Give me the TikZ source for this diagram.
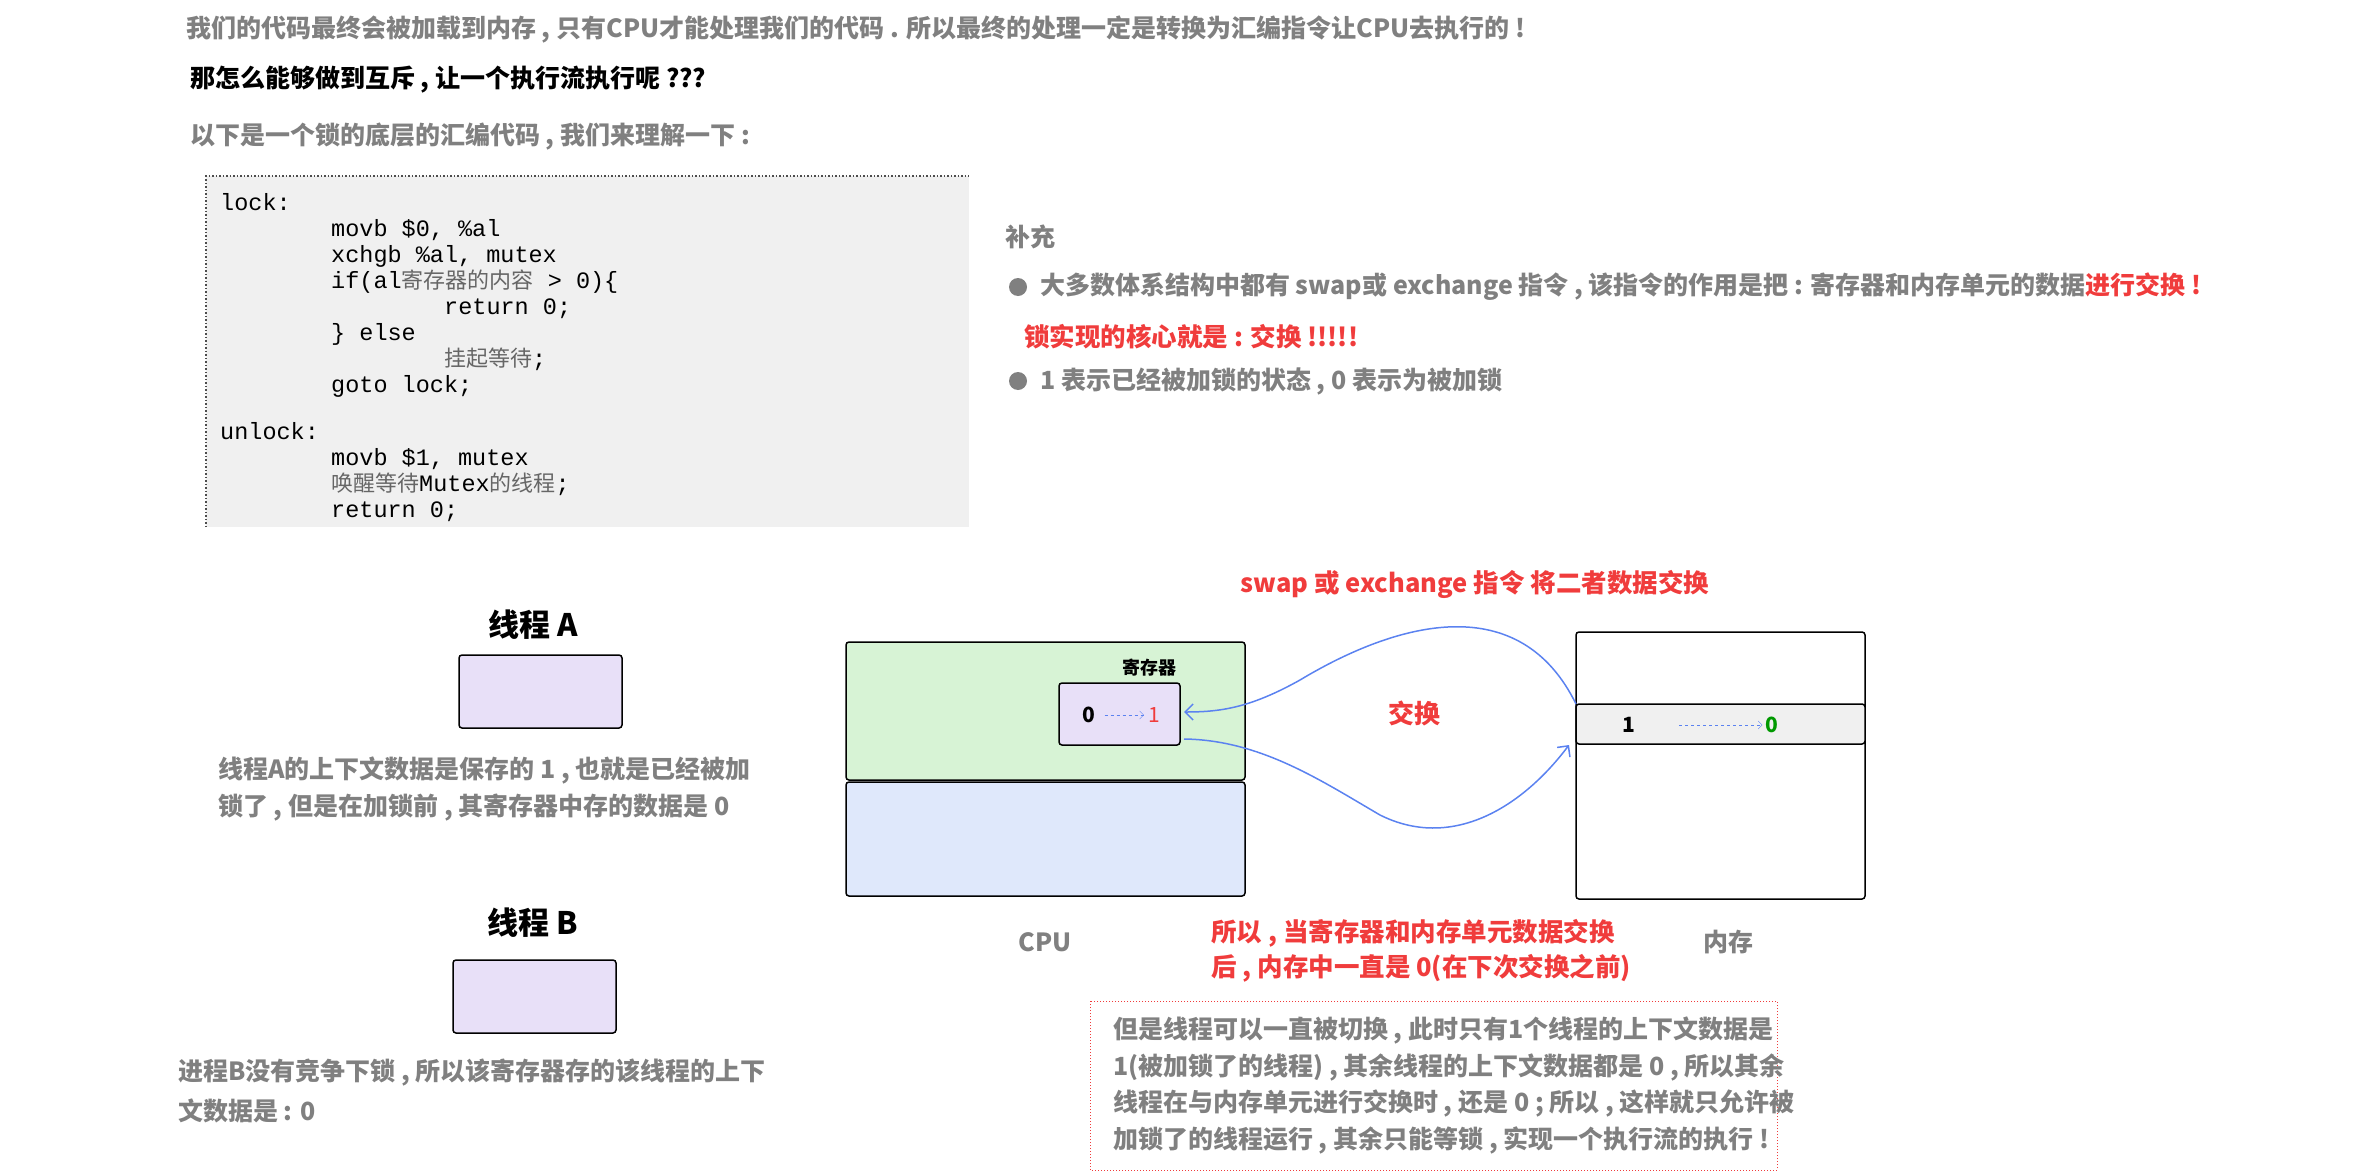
\documentclass[tikz,border=0pt]{standalone}
\usepackage{fontspec}
\setmainfont{Noto Sans CJK SC}
\newfontfamily\cjk{Noto Sans CJK SC}
\newfontfamily\codefont{Liberation Mono}
\usetikzlibrary{arrows.meta}
\definecolor{tgray}{HTML}{808080}
\definecolor{tred}{HTML}{F03C3C}
\definecolor{tblue}{HTML}{5B82F0}
\definecolor{lav}{HTML}{E8E0F8}
\definecolor{lgreen}{HTML}{D7F3D5}
\definecolor{lblue}{HTML}{DFE8FB}
\tikzset{
 txt/.style={anchor=west,inner sep=0pt,font=\fontsize{25}{28}\selectfont\bfseries,text=tgray},
 rtxt/.style={inner sep=0pt,font=\fontsize{25.5}{28}\selectfont\bfseries,text=tred},
 code/.style={anchor=base west,inner sep=0pt,font=\codefont\fontsize{23.5}{26}\selectfont,text=black},
 ttl/.style={inner sep=0pt,font=\fontsize{31}{34}\selectfont\bfseries},
 ctx/.style={fill=#1,draw=black,line width=1.5pt,rounded corners=3pt},
 bul/.style={circle,fill=tgray,inner sep=0pt,minimum size=18pt}
}
\begin{document}
\begin{tikzpicture}[x=1pt,y=-1pt]
\useasboundingbox (0,0) rectangle (2377,1175);
\node[txt] (l1) at (186,29) {我们的代码最终会被加载到内存 , 只有CPU才能处理我们的代码 . 所以最终的处理一定是转换为汇编指令让CPU去执行的 !};
\node[txt,text=black] (l2) at (190,80) {那怎么能够做到互斥 , 让一个执行流执行呢 ???};
\node[txt] (l3) at (190,137) {以下是一个锁的底层的汇编代码 , 我们来理解一下 :};
% code box
\fill[black!6] (206,176) rectangle (969,527);
\draw[dotted,line width=1.5pt,black!70] (206,527) -- (206,176) -- (969,176);
\newcommand\cg[1]{{\cjk\fontsize{22}{26}\selectfont\color{black!60}#1}}
\node[code] (c1) at (220,210) {lock:};
\node[code] (c2) at (331,236) {movb \$0, \%al};
\node[code] (c3) at (331,262) {xchgb \%al, mutex};
\node[code] (c4) at (331,288) {if(al\cg{寄存器的内容} > 0)\{};
\node[code] (c5) at (444,314) {return 0;};
\node[code] (c6) at (331,340) {\} else};
\node[code] (c7) at (444,366) {\cg{挂起等待};};
\node[code] (c8) at (331,392) {goto lock;};
\node[code] (c9) at (220,439) {unlock:};
\node[code] (c10) at (331,465) {movb \$1, mutex};
\node[code] (c11) at (331,491) {\cg{唤醒等待}Mutex\cg{的线程};};
\node[code] (c12) at (331,517) {return 0;};
% right notes
\node[txt] (bc) at (1005,237) {补充};
\node[bul] (b1) at (1018,287) {};
\node[txt] (t1) at (1040,287) {大多数体系结构中都有 swap或 exchange 指令 , 该指令的作用是把 : 寄存器和内存单元的数据\textcolor{tred}{进行交换 !}};
\node[rtxt,anchor=west] (t2) at (1024,337) {锁实现的核心就是 : 交换 !!!!!};
\node[bul] (b2) at (1018,381) {};
\node[txt] (t3) at (1040,381) {1 表示已经被加锁的状态 , 0 表示为被加锁};
% threads
\node[ttl] (ta) at (533,625) {线程 A};
\draw[ctx=lav] (459,655) rectangle (622,728);
\node[txt] (ta1) at (218,770) {线程A的上下文数据是保存的 1 , 也就是已经被加};
\node[txt] (ta2) at (218,808) {锁了 , 但是在加锁前 , 其寄存器中存的数据是 0};
\node[ttl] (tb) at (533,923) {线程 B};
\draw[ctx=lav] (453,960) rectangle (616,1033);
\node[txt] (tb1) at (178,1073) {进程B没有竞争下锁 , 所以该寄存器存的该线程的上下};
\node[txt] (tb2) at (178,1111) {文数据是 : 0};
% CPU
\node[rtxt] (sw) at (1475,584) {swap 或 exchange 指令 将二者数据交换};
\draw[ctx=lgreen] (846,642) rectangle (1245,780);
\draw[ctx=lblue] (846,782) rectangle (1245,896);
\node[inner sep=0pt,font=\fontsize{18}{20}\selectfont\bfseries] (rl) at (1149,668) {寄存器};
\draw[ctx=lav] (1059,683) rectangle (1180,745);
\node[inner sep=0pt,font=\fontsize{21}{22}\selectfont\bfseries] (r0) at (1089,715) {0};
\node[inner sep=0pt,font=\fontsize{21}{22}\selectfont,text=tred] (r1) at (1154,715) {1};
\draw[tblue,dashed,-{Straight Barb[length=4pt]}] (r0.east)++(9,0) -- ([xshift=-4pt]r1.west);
% memory
\draw[draw=black,line width=1.5pt,rounded corners=3pt] (1576,632) rectangle (1865,899);
\draw[ctx=black!6] (1576,704) rectangle (1865,744);
\node[inner sep=0pt,font=\fontsize{21}{22}\selectfont\bfseries] (m1) at (1629,725) {1};
\node[inner sep=0pt,font=\fontsize{21}{22}\selectfont\bfseries,text=green!60!black] (m0) at (1772,725) {0};
\draw[tblue,dashed,-{Straight Barb[length=4pt]}] (1679,725) -- ([xshift=-3pt]m0.west);
\coordinate (mtop) at (1576,704);
\coordinate (mbot) at (1569,745);
\coordinate (rtop) at (1184,712);
\coordinate (rbot) at (1184,739);
\draw[tblue,line width=1.5pt,-{Straight Barb[length=8pt]}] (mtop) .. controls (1520,590) and (1400,620) .. (1300,680) .. controls (1250,708) and (1220,712) .. (rtop);
\draw[tblue,line width=1.5pt,-{Straight Barb[length=8pt]}] (rbot) .. controls (1260,740) and (1320,780) .. (1380,815) .. controls (1450,850) and (1520,810) .. (mbot);
\node[rtxt,font=\fontsize{26}{28}\selectfont\bfseries] (jh) at (1414,713) {交换};
\node[txt,anchor=center] (cpu) at (1045,942) {CPU};
\node[txt,anchor=center] (nc) at (1728,942) {内存};
\node[rtxt] (r2a) at (1413,933) {所以 , 当寄存器和内存单元数据交换};
\node[rtxt,anchor=west] (r2b) at (r2a.west |- 0,968) {后 , 内存中一直是 0(在下次交换之前)};
\draw[tred,dotted,line width=1pt] (1090,1001) rectangle (1777,1170);
\node[txt] (n1) at (1113,1030) {但是线程可以一直被切换 , 此时只有1个线程的上下文数据是};
\node[txt] (n2) at (1113,1067) {1(被加锁了的线程) , 其余线程的上下文数据都是 0 , 所以其余};
\node[txt] (n3) at (1113,1103) {线程在与内存单元进行交换时 , 还是 0 ; 所以 , 这样就只允许被};
\node[txt] (n4) at (1113,1140) {加锁了的线程运行 , 其余只能等锁 , 实现一个执行流的执行 !};
\end{tikzpicture}
\end{document}
